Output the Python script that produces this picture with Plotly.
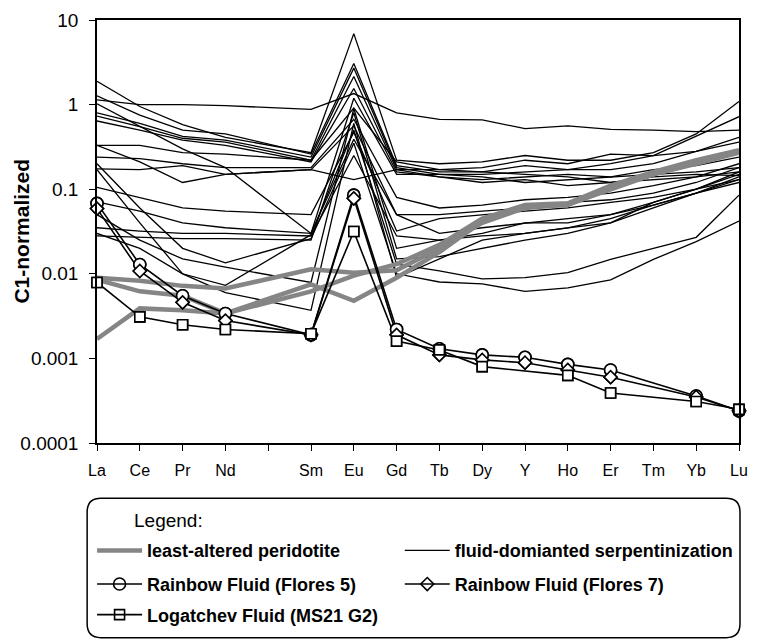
import plotly.graph_objects as go

# ---------------- data ----------------
positions = ["La", "Ce", "Pr", "Nd", "Pm", "Sm", "Eu", "Gd", "Tb", "Dy", "Y", "Ho", "Er", "Tm", "Yb", "Lu"]
tick_labels = ["La", "Ce", "Pr", "Nd", "", "Sm", "Eu", "Gd", "Tb", "Dy", "Y", "Ho", "Er", "Tm", "Yb", "Lu"]
elements = ["La", "Ce", "Pr", "Nd", "Sm", "Eu", "Gd", "Tb", "Dy", "Y", "Ho", "Er", "Tm", "Yb", "Lu"]

y_tickvals = [0.0001, 0.001, 0.01, 0.1, 1, 10]
y_ticktext = ["0.0001", "0.001", "0.01", "0.1", "1", "10"]

# least-altered peridotite (grey)
peridotite_1 = [0.0017, 0.0039, 0.0037, 0.0034, 0.0062, 0.0095, 0.013, 0.022, 0.045, 0.065, 0.068, 0.11, 0.16, 0.22, 0.29]
peridotite_2 = [0.009, 0.0083, 0.0072, 0.0067, 0.0113, 0.0103, 0.011, 0.020, 0.040, 0.060, 0.066, 0.10, 0.15, 0.20, 0.27]
peridotite_3 = [0.0085, 0.0062, 0.0055, 0.0034, 0.0075, 0.0048, 0.009, 0.018, 0.042, 0.063, 0.065, 0.105, 0.15, 0.21, 0.28]

# fluid-dominated serpentinization (black thin)
serp_01 = [1.14, 1.00, 1.00, 0.97, 0.88, 1.35, 0.80, 0.67, 0.66, 0.52, 0.56, 0.51, 0.50, 0.48, 0.50]
serp_02 = [1.89, 0.95, 0.58, 0.41, 0.27, 6.9, 0.22, 0.20, 0.21, 0.25, 0.22, 0.22, 0.27, 0.45, 1.09]
serp_03 = [1.27, 0.75, 0.50, 0.45, 0.26, 3.06, 0.19, 0.16, 0.16, 0.19, 0.17, 0.20, 0.25, 0.42, 0.72]
serp_04 = [0.80, 0.60, 0.42, 0.38, 0.24, 2.70, 0.18, 0.15, 0.15, 0.16, 0.17, 0.17, 0.20, 0.28, 0.41]
serp_05 = [0.73, 0.55, 0.40, 0.36, 0.22, 2.15, 0.17, 0.17, 0.18, 0.22, 0.20, 0.26, 0.25, 0.28, 0.36]
serp_06 = [0.64, 0.50, 0.38, 0.33, 0.21, 1.55, 0.16, 0.14, 0.13, 0.14, 0.15, 0.14, 0.17, 0.19, 0.24]
serp_07 = [1.02, 0.55, 0.30, 0.18, 0.030, 1.19, 0.15, 0.15, 0.14, 0.12, 0.13, 0.14, 0.15, 0.16, 0.18]
serp_08 = [0.33, 0.33, 0.27, 0.26, 0.22, 0.91, 0.21, 0.17, 0.16, 0.15, 0.14, 0.12, 0.13, 0.14, 0.16]
serp_09 = [0.33, 0.21, 0.12, 0.15, 0.17, 0.13, 0.17, 0.14, 0.12, 0.13, 0.11, 0.12, 0.14, 0.15, 0.145]
serp_10 = [0.24, 0.23, 0.20, 0.18, 0.18, 0.67, 0.08, 0.06, 0.065, 0.075, 0.08, 0.09, 0.11, 0.14, 0.20]
serp_11 = [0.174, 0.17, 0.19, 0.15, 0.17, 0.56, 0.05, 0.05, 0.055, 0.06, 0.07, 0.075, 0.09, 0.12, 0.18]
serp_12 = [0.105, 0.08, 0.06, 0.055, 0.05, 0.47, 0.032, 0.045, 0.05, 0.055, 0.06, 0.07, 0.08, 0.10, 0.16]
serp_13 = [0.071, 0.055, 0.04, 0.035, 0.03, 0.39, 0.05, 0.03, 0.035, 0.04, 0.045, 0.05, 0.065, 0.09, 0.13]
serp_14 = [0.035, 0.032, 0.03, 0.03, 0.028, 0.25, 0.028, 0.025, 0.028, 0.03, 0.035, 0.04, 0.06, 0.09, 0.14]
serp_15 = [0.028, 0.027, 0.026, 0.026, 0.025, 0.80, 0.015, 0.016, 0.02, 0.025, 0.03, 0.04, 0.07, 0.10, 0.15]
serp_16 = [0.17, 0.04, 0.01, 0.0073, 0.029, 0.50, 0.013, 0.0108, 0.0087, 0.009, 0.0103, 0.0148, 0.02, 0.027, 0.085]
serp_17 = [0.20, 0.06, 0.02, 0.0135, 0.026, 0.35, 0.010, 0.008, 0.0076, 0.0062, 0.0068, 0.0085, 0.0148, 0.024, 0.042]
serp_18 = [0.05, 0.025, 0.015, 0.012, 0.0079, 0.90, 0.02, 0.025, 0.03, 0.04, 0.04, 0.05, 0.07, 0.10, 0.13]
serp_19 = [0.03, 0.02, 0.01, 0.006, 0.0037, 0.60, 0.009, 0.015, 0.025, 0.03, 0.035, 0.045, 0.065, 0.09, 0.12]

# vent fluids
flores_5 = [0.068, 0.0129, 0.0055, 0.0034, 0.0019, 0.085, 0.0022, 0.0013, 0.0011, 0.00103, 0.00085, 0.00073, None, 0.00036, 0.00024]
flores_7 = [0.059, 0.0108, 0.0046, 0.0028, 0.0019, 0.078, 0.0019, 0.0011, 0.00096, 0.00089, 0.00073, 0.0006, None, 0.00035, 0.00024]
logatchev = [0.0079, 0.0031, 0.0025, 0.0022, 0.00196, 0.0316, 0.0016, 0.00126, 0.0008, None, 0.00063, 0.00039, None, 0.00031, 0.00025]

peridotites = [peridotite_1, peridotite_2, peridotite_3]
serpentinites = [serp_01, serp_02, serp_03, serp_04, serp_05, serp_06, serp_07, serp_08, serp_09, serp_10,
                 serp_11, serp_12, serp_13, serp_14, serp_15, serp_16, serp_17, serp_18, serp_19]

x_vals = [positions.index(e) for e in elements]

FONT = "Liberation Sans, Arial, Helvetica, sans-serif"

# ---------------- layout geometry ----------------
W, H = 758, 644
ML, MR, MT, MB = 97, 10, 16, 200
PW, PH = W - ML - MR, H - MT - MB


def px_x(p):
    return (p - ML) / PW


def px_y(p):
    return (H - MB - p) / PH


fig = go.Figure()

for i, s in enumerate(serpentinites):
    fig.add_trace(go.Scatter(
        x=x_vals, y=s, mode="lines", line=dict(color="black", width=1.3),
        name="<b>fluid-domianted serpentinization</b>", showlegend=(i == 0), legend="legend2",
        connectgaps=True, cliponaxis=False, hoverinfo="skip"))

for i, s in enumerate(peridotites):
    fig.add_trace(go.Scatter(
        x=x_vals, y=s, mode="lines", line=dict(color="#858585", width=4.5),
        name="<b>least-altered peridotite</b>", showlegend=(i == 0), legend="legend",
        connectgaps=True, cliponaxis=False, hoverinfo="skip"))

fluid_specs = [
    (flores_5, "circle-open", 12, "<b>Rainbow Fluid (Flores 5)</b>", "legend3"),
    (flores_7, "diamond-open", 10, "<b>Rainbow Fluid (Flores 7)</b>", "legend4"),
    (logatchev, "square-open", 10, "<b>Logatchev Fluid (MS21 G2)</b>", "legend5"),
]
for vals, sym, size, name, leg in fluid_specs:
    fig.add_trace(go.Scatter(
        x=x_vals, y=vals, mode="lines+markers",
        line=dict(color="black", width=1.6),
        marker=dict(symbol=sym, size=size, color="black", line=dict(color="black", width=1.6)),
        name=name, legend=leg, connectgaps=True, cliponaxis=False, hoverinfo="skip"))

# white-filled markers drawn over lines
for vals, sym, size, name, leg in fluid_specs:
    fig.add_trace(go.Scatter(
        x=x_vals, y=vals, mode="markers",
        marker=dict(symbol=sym.replace("-open", ""), size=size, color="white",
                    line=dict(color="black", width=1.6)),
        showlegend=False, cliponaxis=False, hoverinfo="skip"))

# rounded legend frame
L, R, T, B, r = px_x(87), px_x(749), px_y(500), px_y(641), 14
rx, ry = r / PW, r / PH
path = (f"M{L + rx},{T} L{R - rx},{T} Q{R},{T} {R},{T - ry} "
        f"L{R},{B + ry} Q{R},{B} {R - rx},{B} L{L + rx},{B} "
        f"Q{L},{B} {L},{B + ry} L{L},{T - ry} Q{L},{T} {L + rx},{T} Z")
fig.add_shape(type="path", path=path, xref="paper", yref="paper",
              line=dict(color="black", width=1.5), fillcolor="rgba(0,0,0,0)")

fig.add_annotation(text="Legend:", xref="paper", yref="paper", x=px_x(132), y=px_y(522),
                   xanchor="left", yanchor="middle", showarrow=False,
                   font=dict(family=FONT, size=19, color="black"))

# y-axis title
fig.add_annotation(text="<b>C1-normalized</b>", xref="paper", yref="paper", x=px_x(20), y=0.5,
                   xanchor="center", yanchor="middle", textangle=-90, showarrow=False,
                   font=dict(family=FONT, size=21, color="black"))

leg_common = dict(orientation="h", xanchor="left", yanchor="middle", bgcolor="rgba(0,0,0,0)",
                  font=dict(family=FONT, size=18, color="black"), itemwidth=45,
                  borderwidth=0, itemclick=False, itemdoubleclick=False)

COL1, COL2 = 92, 404
ROW1, ROW2, ROW3 = 553, 587, 618

fig.update_layout(
    width=W, height=H,
    margin=dict(l=ML, r=MR, t=MT, b=MB),
    paper_bgcolor="white", plot_bgcolor="white",
    font=dict(family=FONT, size=15, color="black"),
    legend=dict(x=px_x(COL1), y=px_y(ROW1), **leg_common),
    legend2=dict(x=px_x(COL2), y=px_y(ROW1), **leg_common),
    legend3=dict(x=px_x(COL1), y=px_y(ROW2), **leg_common),
    legend4=dict(x=px_x(COL2), y=px_y(ROW2), **leg_common),
    legend5=dict(x=px_x(COL1), y=px_y(ROW3), **leg_common),
    xaxis=dict(range=[0, 15], tickmode="array", tickvals=list(range(len(positions))),
               ticktext=tick_labels, ticks="outside", ticklen=6, tickwidth=1.3, tickcolor="black",
               ticklabelstandoff=6,
               showline=True, linecolor="black", linewidth=1.5, mirror=True,
               showgrid=False, zeroline=False, tickfont=dict(family=FONT, size=16)),
    yaxis=dict(type="log", range=[-4, 1], tickmode="array", tickvals=y_tickvals, ticktext=y_ticktext,
               ticks="outside", ticklen=6, tickwidth=1.3, tickcolor="black",
               ticklabelstandoff=7,
               showline=True, linecolor="black", linewidth=1.5, mirror=True,
               showgrid=False, zeroline=False, tickfont=dict(family=FONT, size=19)),
)

fig.write_html("out.html")
